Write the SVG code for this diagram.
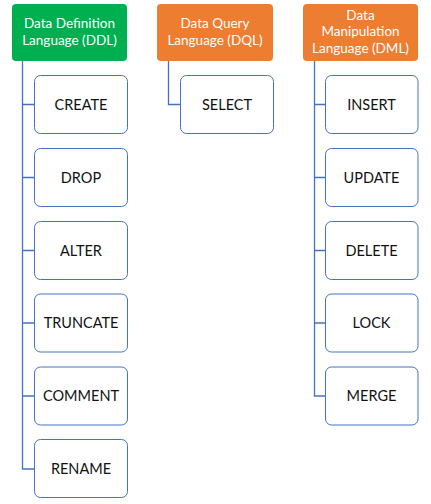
<svg xmlns="http://www.w3.org/2000/svg" width="431" height="504" viewBox="0 0 431 504">
<style>
.hdr-g{fill:#00B050}
.hdr-o{fill:#ED7D31}
.box{fill:#fff;stroke:#4472C4;stroke-width:1}
.conn{fill:none;stroke:#4472C4;stroke-width:1.3}
.ht{font-family:Lato,"Open Sans",sans-serif;font-size:13.5px;fill:#fff;text-anchor:middle}
.bt{font-family:Lato,"Open Sans",sans-serif;font-size:14.5px;fill:#111;text-anchor:middle}
</style>
<rect width="431" height="504" fill="#fff"/>
<g id="connectors">
<path class="conn" d="M22.5 61 V104.5 H34.5 M22.5 104.5 V177.5 H34.5 M22.5 177.5 V250.5 H34.5 M22.5 250.5 V323 H34.5 M22.5 323 V396 H34.5 M22.5 396 V469 H34.5"/>
<path class="conn" d="M168.5 61 V104.5 H180.5"/>
<path class="conn" d="M314.5 61 V104.5 H325.5 M314.5 104.5 V177.5 H325.5 M314.5 177.5 V250.5 H325.5 M314.5 250.5 V323 H325.5 M314.5 323 V396 H325.5"/>
</g>
<g id="ddl"><rect class="hdr-g" x="12" y="4" width="115" height="57" rx="4"/><text class="ht" x="69.5" y="28">Data Definition</text><text class="ht" x="69.5" y="45">Language (DDL)</text></g>
<g id="dql"><rect class="hdr-o" x="157" y="4" width="116" height="57" rx="4"/><text class="ht" x="215" y="28">Data Query</text><text class="ht" x="215" y="45">Language (DQL)</text></g>
<g id="dml"><rect class="hdr-o" x="303" y="4" width="115" height="57" rx="4"/><text class="ht" x="360.5" y="19.5">Data</text><text class="ht" x="360.5" y="36">Manipulation</text><text class="ht" x="360.5" y="52.5">Language (DML)</text></g>
<g id="create"><rect class="box" x="34.5" y="75.5" width="93" height="58" rx="6"/><text class="bt" x="81" y="109.5">CREATE</text></g>
<g id="drop"><rect class="box" x="34.5" y="148.5" width="93" height="58" rx="6"/><text class="bt" x="81" y="182.5">DROP</text></g>
<g id="alter"><rect class="box" x="34.5" y="221.5" width="93" height="58" rx="6"/><text class="bt" x="81" y="255.5">ALTER</text></g>
<g id="truncate"><rect class="box" x="34.5" y="294" width="93" height="58" rx="6"/><text class="bt" x="81" y="328">TRUNCATE</text></g>
<g id="comment"><rect class="box" x="34.5" y="367" width="93" height="58" rx="6"/><text class="bt" x="81" y="401">COMMENT</text></g>
<g id="rename"><rect class="box" x="34.5" y="439.5" width="93" height="58" rx="6"/><text class="bt" x="81" y="473.5">RENAME</text></g>
<g id="select"><rect class="box" x="180.5" y="75.5" width="93" height="58" rx="6"/><text class="bt" x="227" y="109.5">SELECT</text></g>
<g id="insert"><rect class="box" x="325.5" y="75.5" width="92.5" height="58" rx="6"/><text class="bt" x="371.5" y="109.5">INSERT</text></g>
<g id="update"><rect class="box" x="325.5" y="148.5" width="92.5" height="58" rx="6"/><text class="bt" x="371.5" y="182.5">UPDATE</text></g>
<g id="delete"><rect class="box" x="325.5" y="221.5" width="92.5" height="58" rx="6"/><text class="bt" x="371.5" y="255.5">DELETE</text></g>
<g id="lock"><rect class="box" x="325.5" y="294" width="92.5" height="58" rx="6"/><text class="bt" x="371.5" y="328">LOCK</text></g>
<g id="merge"><rect class="box" x="325.5" y="367" width="92.5" height="58" rx="6"/><text class="bt" x="371.5" y="401">MERGE</text></g>
</svg>
